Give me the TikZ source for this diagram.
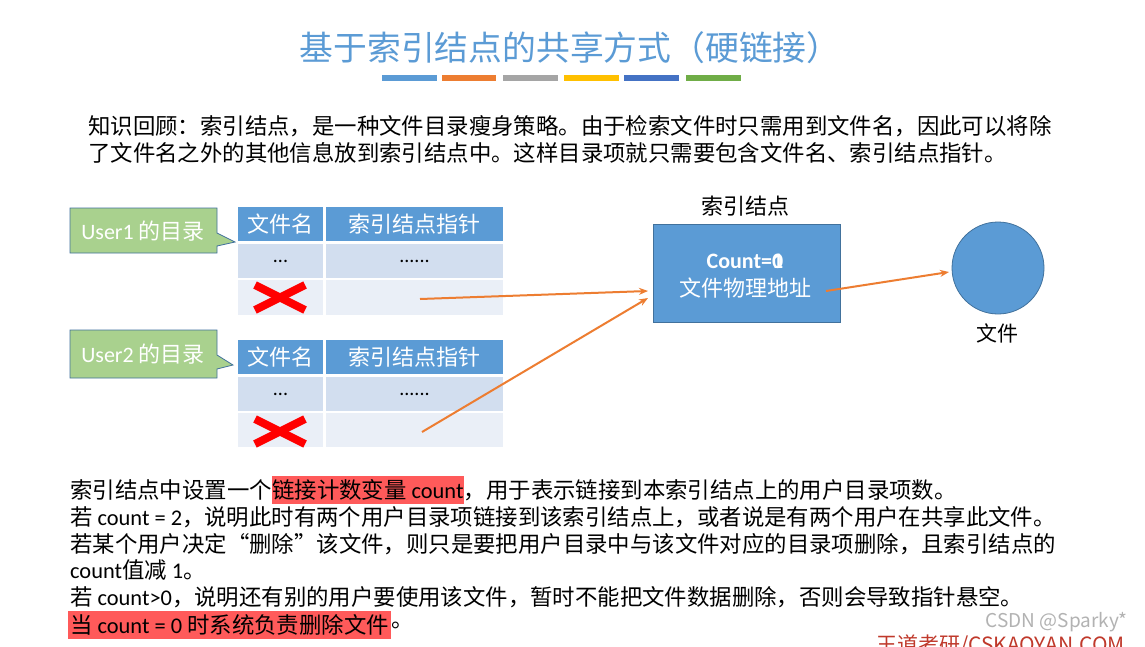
\documentclass[tikz,border=0pt]{standalone}
\usepackage{fontspec}
\setmainfont{Noto Sans CJK SC}
\newfontfamily\lat{Carlito}
\usetikzlibrary{arrows.meta}
\definecolor{tblue}{HTML}{5B9BD5}
\definecolor{torange}{HTML}{ED7D31}
\definecolor{tgray}{HTML}{A5A5A5}
\definecolor{tgold}{HTML}{FFC000}
\definecolor{tdblue}{HTML}{4472C4}
\definecolor{tgreen}{HTML}{70AD47}
\definecolor{cgreen}{HTML}{A9D18E}
\definecolor{bordblue}{HTML}{41719C}
\definecolor{rowa}{HTML}{D2DEEF}
\definecolor{rowb}{HTML}{EAEFF7}
\definecolor{hilite}{HTML}{FF5A5A}
\definecolor{wdred}{HTML}{C0392B}
\tikzset{
  txt/.style={inner sep=0pt, anchor=west, font=\fontsize{22.4}{26}\selectfont},
  hl/.style={txt, fill=hilite, inner ysep=4pt},
  hcell/.style={fill=tblue, inner sep=0pt, text=white, font=\fontsize{22}{24}\selectfont},
  acell/.style={fill=rowa, inner sep=0pt, font=\fontsize{20}{22}\selectfont},
  bcell/.style={fill=rowb, inner sep=0pt},
  callout/.style={fill=cgreen, draw=bordblue, line width=0.8pt},
  calltext/.style={text=white, font=\fontsize{22}{24}\selectfont, inner sep=0pt},
  cross/.style={draw=red, line width=8pt},
  bar/.style={line width=6pt},
  link/.style={draw=torange, line width=2pt, -{Stealth[length=9pt,width=7pt]}}
}
\begin{document}
\begin{tikzpicture}[x=1pt,y=-1pt]
\useasboundingbox (0,0) rectangle (1145,646);
\clip (0,0) rectangle (1145,646);
\fill[white] (0,0) rectangle (1145,646);

% title
\node[text=tblue, font=\fontsize{33.8}{36}\selectfont, inner sep=0pt] (title) at (570,48) {基于索引结点的共享方式（硬链接）};
\draw[bar, tblue] (382,78) -- (437,78);
\draw[bar, torange] (442,78) -- (496,78);
\draw[bar, tgray] (503,78) -- (558,78);
\draw[bar, tgold] (564,78) -- (619,78);
\draw[bar, tdblue] (624,78) -- (679,78);
\draw[bar, tgreen] (686,78) -- (741,78);

% intro paragraph
\node[txt] (p1) at (88,126) {知识回顾：索引结点，是一种文件目录瘦身策略。由于检索文件时只需用到文件名，因此可以将除};
\node[txt] (p2) at (88,153) {了文件名之外的其他信息放到索引结点中。这样目录项就只需要包含文件名、索引结点指针。};

% User1 callout
\draw[callout] (70,208) -- (217,208) -- (217,233) -- (235,242) -- (217,246) -- (217,253) -- (70,253) -- cycle;
\node[calltext] (u1) at (143,231) {{\lat User1} 的目录};

% Table 1
\node[hcell, minimum width=85pt, minimum height=34pt] (t1h1) at (280.5,224) {文件名};
\node[hcell, minimum width=177pt, minimum height=34pt] (t1h2) at (414.5,224) {索引结点指针};
\node[acell, minimum width=85pt, minimum height=34pt] (t1a1) at (280.5,261) {{\lat ...}};
\node[acell, minimum width=177pt, minimum height=34pt] (t1a2) at (414.5,261) {{\lat ......}};
\node[bcell, minimum width=85pt, minimum height=35pt] (t1b1) at (280.5,297.5) {};
\node[bcell, minimum width=177pt, minimum height=35pt] (t1b2) at (414.5,297.5) {};
\draw[cross] (255,285) -- (305,310);
\draw[cross] (255,310) -- (305,285);

% User2 callout
\draw[callout] (70,330) -- (217,330) -- (217,355) -- (233,365) -- (217,369) -- (217,378) -- (70,378) -- cycle;
\node[calltext] (u2) at (143,354) {{\lat User2} 的目录};

% Table 2
\node[hcell, minimum width=85pt, minimum height=34pt] (t2h1) at (280.5,357) {文件名};
\node[hcell, minimum width=177pt, minimum height=34pt] (t2h2) at (414.5,357) {索引结点指针};
\node[acell, minimum width=85pt, minimum height=34pt] (t2a1) at (280.5,394) {{\lat ...}};
\node[acell, minimum width=177pt, minimum height=34pt] (t2a2) at (414.5,394) {{\lat ......}};
\node[bcell, minimum width=85pt, minimum height=34pt] (t2b1) at (280.5,430) {};
\node[bcell, minimum width=177pt, minimum height=34pt] (t2b2) at (414.5,430) {};
\draw[cross] (255,419) -- (305,444);
\draw[cross] (255,444) -- (305,419);

% index node
\node[font=\fontsize{22}{24}\selectfont, inner sep=0pt] (inlabel) at (745,206) {索引结点};
\node[fill=tblue, draw=bordblue, line width=0.8pt, minimum width=187pt, minimum height=98pt, inner sep=0pt] (inode) at (747,273) {};
\node[text=white, font=\lat\bfseries\fontsize{22}{24}\selectfont, inner sep=0pt] (cnt) at (745,261) {Count=\rlap{1}0};
\node[text=white, font=\fontsize{22}{24}\selectfont, inner sep=0pt] (addr) at (745,288) {文件物理地址};

% file circle
\node[circle, fill=tblue, draw=bordblue, line width=0.8pt, minimum size=92pt, inner sep=0pt] (file) at (998,268) {};
\node[font=\fontsize{21}{23}\selectfont, inner sep=0pt] (filelabel) at (997,333) {文件};

% arrows
\coordinate (s1) at (420,299);
\coordinate (s2) at (422,432);
\coordinate (e1) at (648,291);
\coordinate (e2) at (648,298);
\coordinate (s3) at (826,291);
\coordinate (e3) at (949,272);
\draw[link] (s1) -- (e1);
\draw[link] (s2) -- (e2);
\draw[link] (s3) -- (e3);

% bottom text
\node[txt] (b1a) at (70,490) {索引结点中设置一个};
\node[hl, anchor=west] (b1b) at (b1a.east) {链接计数变量 {\lat count}};
\node[txt] (b1c) at (b1b.east) {，用于表示链接到本索引结点上的用户目录项数。};
\node[txt] (b2) at (70,517) {若 {\lat count = 2}，说明此时有两个用户目录项链接到该索引结点上，或者说是有两个用户在共享此文件。};
\node[txt] (b3) at (70,544) {若某个用户决定“删除”该文件，则只是要把用户目录中与该文件对应的目录项删除，且索引结点的};
\node[txt] (b4) at (70,570) {{\lat count}值减 {\lat 1}。};
\node[txt] (b5) at (70,597) {若 {\lat count>0}，说明还有别的用户要使用该文件，暂时不能把文件数据删除，否则会导致指针悬空。};
\node[hl, inner xsep=2pt] (b6a) at (68,625) {当 {\lat count = 0} 时系统负责删除文件};
\node[txt] (b6b) at (b6a.east) {。};

% watermarks
\node[anchor=east, inner sep=0pt, text=black!30, font=\fontsize{19}{21}\selectfont] (wm1) at (1128,622) {CSDN @Sparky*};
\node[anchor=east, inner sep=0pt, text=wdred, font=\fontsize{21}{23}\selectfont] (wm2) at (1125,646) {王道考研/CSKAOYAN.COM};
\end{tikzpicture}
\end{document}
